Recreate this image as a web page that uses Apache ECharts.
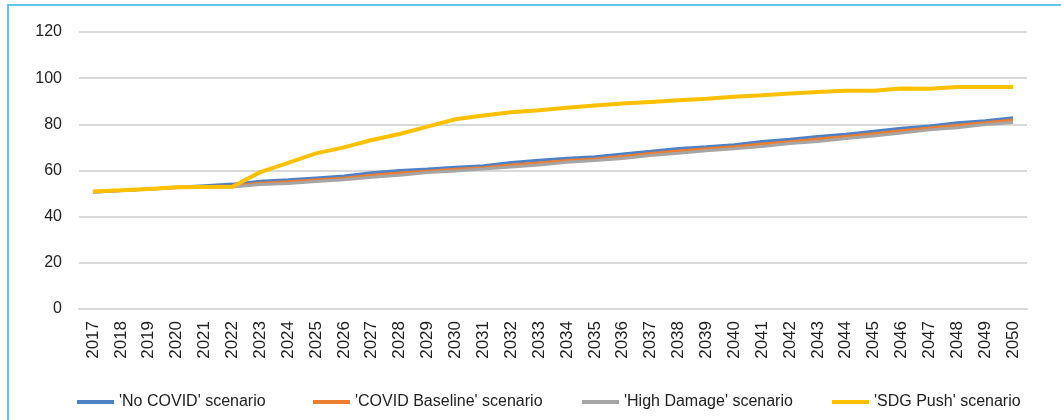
<!DOCTYPE html>
<html>
<head>
<meta charset="utf-8">
<script src="https://cdn.jsdelivr.net/npm/echarts@6/dist/echarts.min.js"></script>
<style>
html,body{margin:0;padding:0;background:#fff;}
#c{width:1061px;height:420px;}
</style>
</head>
<body>
<div id="c"></div>
<script>
const years = ['2017','2018','2019','2020','2021','2022','2023','2024','2025','2026','2027','2028','2029','2030','2031','2032','2033','2034','2035','2036','2037','2038','2039','2040','2041','2042','2043','2044','2045','2046','2047','2048','2049','2050'];
const noCovid = [50.7,51.3,52.0,52.7,53.4,54.1,55.3,56.0,56.8,57.6,59.0,60.0,60.6,61.4,62.1,63.5,64.4,65.3,66.0,67.2,68.3,69.5,70.3,71.2,72.6,73.5,74.7,75.7,77.0,78.3,79.3,80.7,81.6,82.9];
const covidBaseline = [50.7,51.3,52.0,52.6,53.1,53.3,54.5,55.1,55.9,56.6,57.9,58.9,59.7,60.5,61.2,62.4,63.3,64.3,65.0,66.1,67.4,68.5,69.4,70.3,71.5,72.5,73.6,74.7,75.9,77.2,78.4,79.6,80.7,81.9];
const highDamage = [50.6,51.2,51.9,52.5,52.9,52.9,53.9,54.4,55.2,56.0,57.1,57.9,59.1,59.8,60.6,61.5,62.4,63.6,64.3,65.2,66.5,67.5,68.6,69.4,70.4,71.7,72.6,73.9,74.9,76.2,77.6,78.5,79.9,80.8];
const sdgPush = [50.9,51.4,52.0,52.7,52.9,53.0,59.3,63.3,67.4,70.0,73.2,75.8,79.0,82.2,83.8,85.2,86.1,87.2,88.2,89.0,89.7,90.4,91.1,91.9,92.6,93.4,94.0,94.6,94.5,95.5,95.4,96.2,96.2,96.2];
const seriesNames = ["'No COVID' scenario","'COVID Baseline' scenario","'High Damage' scenario","'SDG Push' scenario"];
const colors = ['#4f81c7','#ed7d31','#a5a5a5','#ffc000'];
const yTicks = {min:0,max:120,interval:20};

const chart = echarts.init(document.getElementById('c'));
const dataSets = [noCovid, covidBaseline, highDamage, sdgPush];
const legendLefts = [77, 313, 582, 832];
const textStyle = {color:'#222', fontFamily:'Liberation Sans, Arial, sans-serif', fontSize:16};
chart.setOption({
  animation:false,
  backgroundColor:'#fff',
  graphic:[{type:'rect', shape:{x:8,y:5,width:1200,height:600}, style:{fill:'none', stroke:'#5cc6ee', lineWidth:2}, silent:true}],
  grid:{left:79, right:34, top:32, bottom:111},
  legend: seriesNames.map((n,i)=>({
    data:[n], left:legendLefts[i], top:394, padding:0, icon:'rect', itemWidth:37, itemHeight:4, itemGap:0,
    textStyle:textStyle
  })),
  xAxis:{type:'category', data:years, boundaryGap:true,
    axisLine:{show:true, lineStyle:{color:'#d9d9d9', width:2}},
    axisTick:{show:false},
    axisLabel:{rotate:90, interval:0, margin:12, color:'#222', fontFamily:'Liberation Sans, Arial, sans-serif', fontSize:17}
  },
  yAxis:{type:'value', min:yTicks.min, max:yTicks.max, interval:yTicks.interval,
    axisLine:{show:false}, axisTick:{show:false},
    splitLine:{lineStyle:{color:'#d9d9d9', width:2}},
    axisLabel:{margin:17, color:'#222', fontFamily:'Liberation Sans, Arial, sans-serif', fontSize:16}
  },
  series: seriesNames.map((n,i)=>({
    name:n, type:'line', data:dataSets[i], showSymbol:false, symbol:'none',
    lineStyle:{color:colors[i], width: i===3 ? 4 : 3},
    itemStyle:{color:colors[i]}
  }))
});
</script>
</body>
</html>
